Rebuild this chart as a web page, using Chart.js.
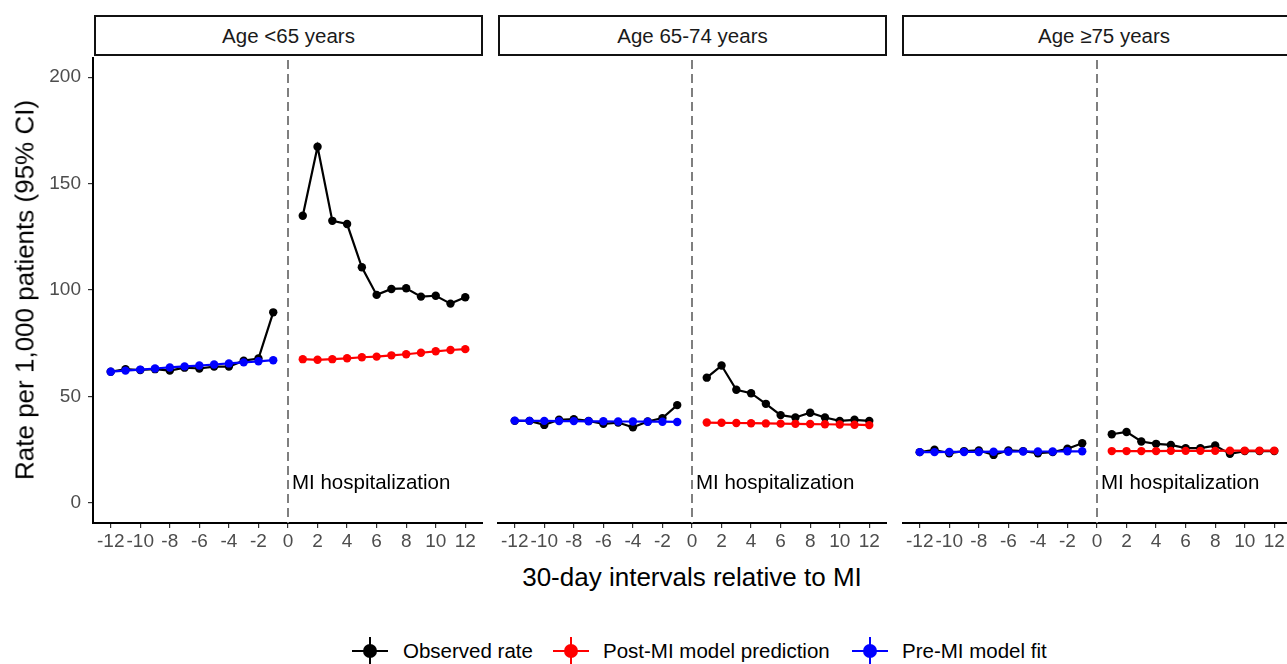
<!DOCTYPE html>
<html>
<head>
<meta charset="utf-8">
<script src="https://cdn.jsdelivr.net/npm/chart.js@4"></script>
<style>
  body { margin: 0; width: 1287px; height: 664px; overflow: hidden; background: #fff; font-family: "Liberation Sans", Arial, sans-serif; position: relative; }
  .panel { position: absolute; top: 57px; height: 496px; }
  .strip { position: absolute; top: 15px; height: 37px; border: 2px solid #111; box-sizing: content-box; text-align: center; line-height: 38px; font-size: 20.5px; color: #1a1a1a; }
  .ytitle { position: absolute; left: 25px; top: 290px; transform: translate(-50%, -50%) rotate(-90deg); font-size: 26px; white-space: nowrap; }
  .xtitle { position: absolute; left: 692px; top: 577px; transform: translate(-50%, -50%); font-size: 26px; white-space: nowrap; }
  .legend { position: absolute; top: 637px; left: 0; width: 1287px; height: 28px; }
  .item { position: absolute; top: 0; height: 28px; }
  .icon { position: absolute; top: 0; width: 36px; height: 28px; }
  .icon .h { position: absolute; left: 0; top: 13px; width: 36px; height: 2px; }
  .icon .v { position: absolute; left: 17px; top: 0; width: 2px; height: 28px; }
  .icon .d { position: absolute; left: 11px; top: 7px; width: 14px; height: 14px; border-radius: 50%; }
  .lab { position: absolute; top: 2px; font-size: 20.5px; white-space: nowrap; }
</style>
</head>
<body>
<div class="strip" style="left:94px; width:385px;">Age &lt;65 years</div>
<div class="strip" style="left:498px; width:385px;">Age 65-74 years</div>
<div class="strip" style="left:902px; width:400px;">Age ≥75 years</div>

<div class="panel" style="left:0; width:483px;"><canvas id="p1"></canvas></div>
<div class="panel" style="left:497px; width:390px;"><canvas id="p2"></canvas></div>
<div class="panel" style="left:902px; width:390px;"><canvas id="p3"></canvas></div>

<div class="ytitle">Rate per 1,000 patients (95% CI)</div>
<div class="xtitle">30-day intervals relative to MI</div>

<div class="legend">
  <div class="item" style="left:352px;"><div class="icon"><div class="h" style="background:#000"></div><div class="v" style="background:#000"></div><div class="d" style="background:#000"></div></div><div class="lab" style="left:51px;">Observed rate</div></div>
  <div class="item" style="left:553px;"><div class="icon"><div class="h" style="background:#f00"></div><div class="v" style="background:#f00"></div><div class="d" style="background:#f00"></div></div><div class="lab" style="left:50px;">Post-MI model prediction</div></div>
  <div class="item" style="left:852px;"><div class="icon"><div class="h" style="background:#00f"></div><div class="v" style="background:#00f"></div><div class="d" style="background:#00f"></div></div><div class="lab" style="left:50px;">Pre-MI model fit</div></div>
</div>

<script>
// 30-day intervals before and after the MI
const xPre = [-12, -11, -10, -9, -8, -7, -6, -5, -4, -3, -2, -1];
const xPost = [1, 2, 3, 4, 5, 6, 7, 8, 9, 10, 11, 12];
const xTicks = [-12, -10, -8, -6, -4, -2, 0, 2, 4, 6, 8, 10, 12];
const yTicks = [0, 50, 100, 150, 200];

// Age <65
const obsPre1 = [61.6, 62.8, 62.4, 62.8, 62.1, 63.5, 63.1, 64.0, 64.0, 66.8, 67.8, 89.5];
const obsPost1 = [134.9, 167.3, 132.5, 131.0, 110.7, 97.7, 100.5, 100.8, 96.9, 97.3, 93.6, 96.6];
const fitPre1 = [61.6, 62.1, 62.6, 63.1, 63.6, 64.1, 64.5, 65.0, 65.5, 66.0, 66.5, 67.0];
const predPost1 = [67.5, 67.2, 67.5, 67.9, 68.4, 68.7, 69.3, 69.8, 70.5, 71.2, 71.8, 72.2];

// Age 65-74
const obsPre2 = [38.5, 38.5, 36.6, 39.0, 39.3, 38.5, 37.1, 37.7, 35.5, 38.2, 39.8, 45.9];
const obsPost2 = [58.8, 64.5, 53.1, 51.5, 46.5, 41.2, 40.1, 42.3, 40.1, 38.5, 39.0, 38.5];
const fitPre2 = [38.6, 38.5, 38.5, 38.4, 38.4, 38.3, 38.3, 38.2, 38.2, 38.1, 38.1, 38.0];
const predPost2 = [37.7, 37.6, 37.5, 37.4, 37.3, 37.2, 37.1, 37.0, 36.9, 36.8, 36.7, 36.5];

// Age >=75
const obsPre3 = [23.8, 24.9, 23.3, 24.3, 24.6, 22.5, 24.6, 24.3, 23.3, 23.8, 25.4, 28.0];
const obsPost3 = [32.2, 33.3, 28.8, 27.7, 27.2, 25.7, 25.7, 26.9, 23.0, 24.3, 24.3, 24.3];
const fitPre3 = [23.8, 23.8, 23.9, 23.9, 23.9, 24.0, 24.0, 24.1, 24.1, 24.1, 24.2, 24.2];
const predPost3 = [24.3, 24.3, 24.3, 24.3, 24.4, 24.4, 24.4, 24.4, 24.5, 24.5, 24.5, 24.5];

const eventX = 0;
const eventLabel = 'MI hospitalization';
const eventLabelY = 9;

const FONT = '"Liberation Sans", Arial, sans-serif';
const pts = (xs, ys) => xs.map((x, i) => ({ x: x, y: ys[i] }));

function series(label, data, color) {
  return {
    label: label,
    data: data,
    borderColor: color,
    backgroundColor: color,
    borderWidth: 2.2,
    pointRadius: 4.2,
    pointBorderWidth: 0,
    pointBackgroundColor: color,
    tension: 0,
    spanGaps: false
  };
}

// dashed MI line + label
const miLine = {
  id: 'miLine',
  beforeDatasetsDraw(chart) {
    const { ctx, chartArea, scales } = chart;
    const px = scales.x.getPixelForValue(eventX);
    ctx.save();
    ctx.strokeStyle = '#7f7f7f';
    ctx.lineWidth = 2;
    ctx.setLineDash([9, 5]);
    ctx.beginPath();
    ctx.moveTo(px, chartArea.top + 3);
    ctx.lineTo(px, chartArea.bottom);
    ctx.stroke();
    ctx.setLineDash([]);
    ctx.fillStyle = '#000';
    ctx.font = '20.5px ' + FONT;
    ctx.textBaseline = 'middle';
    ctx.textAlign = 'left';
    ctx.fillText(eventLabel, px + 4, scales.y.getPixelForValue(eventLabelY));
    ctx.restore();
  }
};

// keep plot areas at fixed pixel boxes so the three panels line up
function noPad(s) {
  s.paddingTop = 0; s.paddingBottom = 0; s.paddingLeft = 0; s.paddingRight = 0;
}

function makePanel(id, obsPre, obsPost, fitPre, predPost, showY) {
  const obs = pts(xPre, obsPre).concat([{ x: eventX, y: null }], pts(xPost, obsPost));
  new Chart(document.getElementById(id), {
    type: 'line',
    data: {
      datasets: [
        series('Pre-MI model fit', pts(xPre, fitPre), '#0000ff'),
        series('Post-MI model prediction', pts(xPost, predPost), '#ff0000'),
        series('Observed rate', obs, '#000000')
      ]
    },
    options: {
      responsive: true,
      maintainAspectRatio: false,
      animation: false,
      layout: { padding: 0, autoPadding: false },
      plugins: { legend: { display: false }, tooltip: { enabled: false } },
      scales: {
        x: {
          type: 'linear',
          bounds: 'data',
          min: -13.2,
          max: 13.2,
          afterBuildTicks: s => { s.ticks = xTicks.map(v => ({ value: v })); },
          afterFit: s => { s.height = 30; noPad(s); },
          grid: { display: true, drawOnChartArea: false, drawTicks: true, tickLength: 5, color: '#333', lineWidth: 1.2 },
          border: { display: true, color: '#000', width: 2 },
          ticks: { autoSkip: false, maxRotation: 0, padding: 2, color: '#4d4d4d', font: { size: 19, family: FONT } }
        },
        y: {
          display: showY,
          bounds: 'data',
          min: -9.5,
          max: 209.5,
          afterBuildTicks: s => { s.ticks = yTicks.map(v => ({ value: v })); },
          afterFit: s => { if (showY) s.width = 93; noPad(s); },
          grid: { display: true, drawOnChartArea: false, drawTicks: true, tickLength: 5, color: '#333', lineWidth: 1.2 },
          border: { display: true, color: '#000', width: 2 },
          ticks: { padding: 7, color: '#4d4d4d', font: { size: 19, family: FONT } }
        }
      }
    },
    plugins: [miLine]
  });
}

makePanel('p1', obsPre1, obsPost1, fitPre1, predPost1, true);
makePanel('p2', obsPre2, obsPost2, fitPre2, predPost2, false);
makePanel('p3', obsPre3, obsPost3, fitPre3, predPost3, false);
</script>
</body>
</html>
